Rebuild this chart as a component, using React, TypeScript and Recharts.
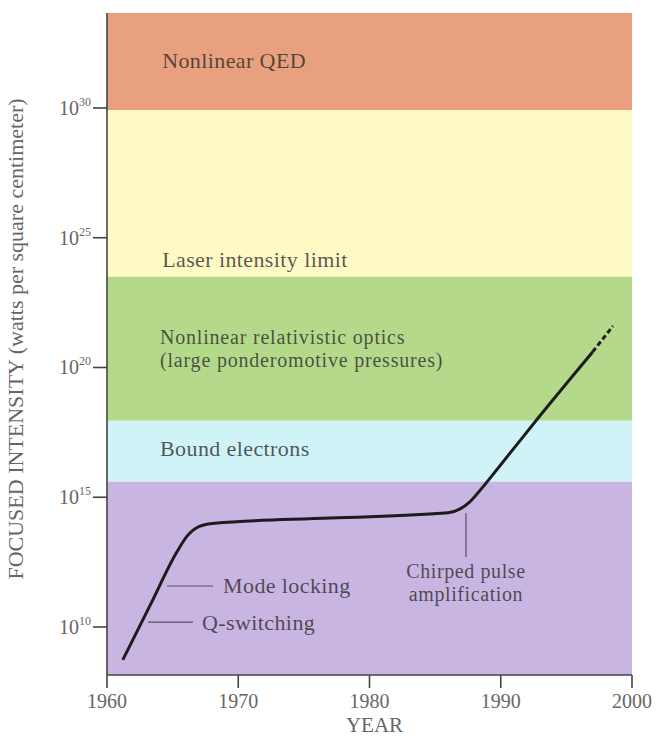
import React from 'react';
import {
  ComposedChart,
  Line,
  XAxis,
  YAxis,
  ReferenceArea,
  ReferenceLine,
  ReferenceDot,
  Label,
} from 'recharts';

// x: year, y: log10 of focused intensity (W/cm^2)
const yearTicks = [1960, 1970, 1980, 1990, 2000];
const exponentTicks = [10, 15, 20, 25, 30];

// physics regimes, bottom/top exponent of each band
const bandLow = [29.92, 23.5, 17.95, 15.6, 8];
const bandHigh = [34, 29.92, 23.5, 17.95, 15.6];
const bandColors = ['#E9A07E', '#FDFAC6', '#B4D98B', '#CFF3F6', '#C9B5E2'];

// intensity history
const solidYears = [1961.2, 1963.3, 1965.3, 1966.1, 1967.0, 1968.2, 1977, 1986, 1986.9, 1987.6, 1988.4, 1990, 1993, 1997];
const solidExp = [8.73, 10.85, 12.87, 13.5, 13.87, 14.0, 14.2, 14.4, 14.55, 14.8, 15.25, 16.25, 18.15, 20.6];
// projected part
const dashYears = [1997, 1998.55];
const dashExp = [20.6, 21.6];

const FONT = '"Liberation Serif", "DejaVu Serif", serif';
const TEXT = '#2a2a2a';

// annotation anchors (year, exponent)
const notes = [
  { lines: ['Nonlinear QED'], year: 1964.2, exp: 31.54, anchor: 'start', size: 22, ls: 0.4 },
  { lines: ['Laser intensity limit'], year: 1964.2, exp: 23.87, anchor: 'start', size: 22, ls: 0.4 },
  { lines: ['Nonlinear relativistic optics', '(large ponderomotive pressures)'], year: 1964.04, exp: 20.92, anchor: 'start', size: 20, ls: 0.8 },
  { lines: ['Bound electrons'], year: 1964.04, exp: 16.59, anchor: 'start', size: 22, ls: 0.4 },
  { lines: ['Mode locking'], year: 1968.84, exp: 11.31, anchor: 'start', size: 22, ls: 0.4 },
  { lines: ['Q-switching'], year: 1967.24, exp: 9.88, anchor: 'start', size: 22, ls: 0.4 },
  { lines: ['Chirped pulse', 'amplification'], year: 1987.35, exp: 11.9, anchor: 'middle', size: 20, ls: 0.6 },
];

const leaders = [
  { x1: 1964.57, y1: 11.58, x2: 1968.08, y2: 11.58 },
  { x1: 1963.12, y1: 10.19, x2: 1966.55, y2: 10.19 },
  { x1: 1987.35, y1: 14.39, x2: 1987.35, y2: 12.7 },
];

const solidData = solidYears.map((year, i) => ({ year, exp: solidExp[i] }));
const dashData = dashYears.map((year, i) => ({ year, exp: dashExp[i] }));

const XTick = ({ x, y, payload }: any) => (
  <text x={x} y={y + 20} textAnchor="middle" fontSize={20} fontFamily={FONT} fill="#666">
    {payload.value}
  </text>
);

const YTick = ({ x, y, payload }: any) => (
  <text x={x - 2} y={y + 7} textAnchor="end" fontSize={20} fontFamily={FONT} fill="#666">
    10
    <tspan dy={-9} fontSize={12}>{payload.value}</tspan>
  </text>
);

const noteShape = (lines: string[], anchor: string, size: number, ls: number) => (p: any) => (
  <g>
    {lines.map((l, i) => (
      <text
        key={i}
        x={p.cx}
        y={p.cy + i * (size + 3)}
        textAnchor={anchor}
        fontSize={size}
        letterSpacing={ls}
        fontFamily={FONT}
        fill={TEXT}
        fillOpacity={0.78}
      >
        {l}
      </text>
    ))}
  </g>
);

const YTitle = ({ viewBox }: any) => {
  const cx = viewBox.x + 23;
  const cy = viewBox.y + viewBox.height / 2 - 5;
  return (
    <text
      x={cx}
      y={cy}
      transform={`rotate(-90, ${cx}, ${cy})`}
      textAnchor="middle"
      fontSize={22}
      fontFamily={FONT}
      fill="#666"
    >
      FOCUSED INTENSITY (watts per square centimeter)
    </text>
  );
};

const XTitle = ({ viewBox }: any) => (
  <text
    x={viewBox.x + viewBox.width / 2 + 5}
    y={viewBox.y + 57}
    textAnchor="middle"
    fontSize={21}
    fontFamily={FONT}
    fill="#666"
  >
    YEAR
  </text>
);

export default function App() {
  return (
    <div style={{ position: 'absolute', left: 0, top: 0, width: 657, height: 736, background: '#fff' }}>
      <ComposedChart width={657} height={736} margin={{ top: 13, right: 25, left: 0, bottom: 21 }}>
        {bandLow.map((lo, i) => (
          <ReferenceArea
            key={i}
            x1={1960}
            x2={2000}
            y1={lo}
            y2={bandHigh[i]}
            fill={bandColors[i]}
            fillOpacity={1}
            stroke="none"
            ifOverflow="hidden"
          />
        ))}
        <XAxis
          dataKey="year"
          type="number"
          domain={[1960, 2000]}
          ticks={yearTicks}
          allowDataOverflow
          height={40}
          tickSize={13}
          tickMargin={0}
          tick={<XTick />}
          axisLine={{ stroke: '#444', strokeWidth: 1.6 }}
          tickLine={{ stroke: '#444', strokeWidth: 1.6 }}
        >
          <Label content={<XTitle />} />
        </XAxis>
        <YAxis
          type="number"
          domain={[8.15, 33.66]}
          ticks={exponentTicks}
          allowDataOverflow
          width={107}
          tickSize={14}
          tickMargin={0}
          tick={<YTick />}
          axisLine={{ stroke: '#444', strokeWidth: 1.6 }}
          tickLine={{ stroke: '#444', strokeWidth: 1.6 }}
        >
          <Label content={<YTitle />} />
        </YAxis>
        {leaders.map((s, i) => (
          <ReferenceLine
            key={i}
            segment={[{ x: s.x1, y: s.y1 }, { x: s.x2, y: s.y2 }]}
            stroke="#5a4f63"
            strokeWidth={1.2}
          />
        ))}
        {notes.map((n, i) => (
          <ReferenceDot
            key={i}
            x={n.year}
            y={n.exp}
            r={0}
            shape={noteShape(n.lines, n.anchor, n.size, n.ls)}
          />
        ))}
        <Line
          data={solidData}
          dataKey="exp"
          type="monotone"
          stroke="#1c1c1c"
          strokeWidth={3}
          dot={false}
          activeDot={false}
          isAnimationActive={false}
        />
        <Line
          data={dashData}
          dataKey="exp"
          type="linear"
          stroke="#1c1c1c"
          strokeWidth={3}
          strokeDasharray="5 3"
          dot={false}
          activeDot={false}
          isAnimationActive={false}
        />
      </ComposedChart>
    </div>
  );
}
